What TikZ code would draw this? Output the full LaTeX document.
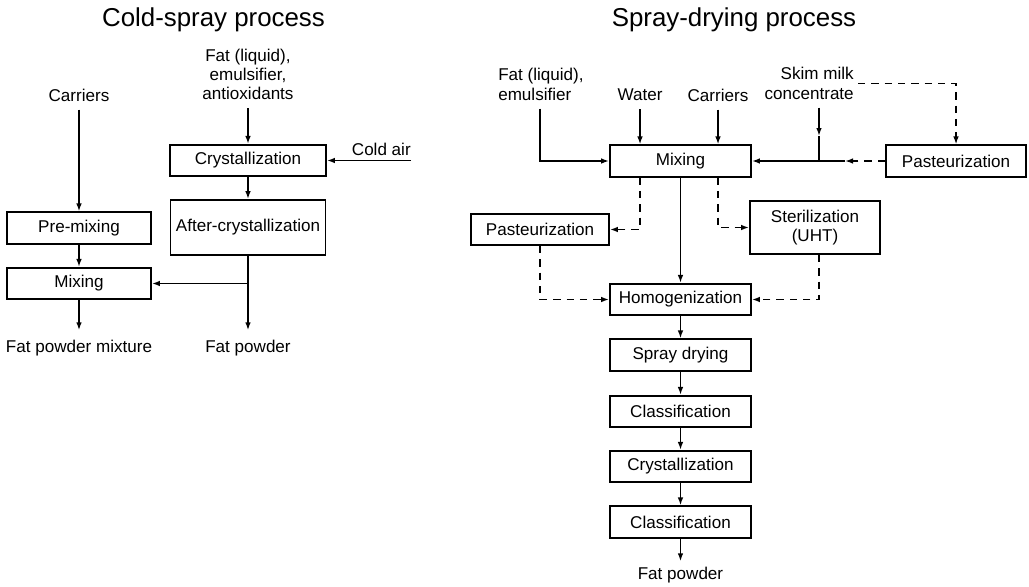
\documentclass[tikz,border=0pt]{standalone}
\usepackage{fontspec}
\setmainfont{Liberation Sans}
\usetikzlibrary{arrows.meta}

\begin{document}
\begin{tikzpicture}[x=0.75pt, y=-0.75pt, line cap=butt, line join=miter, >={Latex[length=6pt,width=4.2pt]}, font=\fontsize{12.8}{14.5}\selectfont,
		box/.style={draw, line width=1.3pt, inner sep=0pt, align=center, minimum height=23.5pt, minimum width=#1},
		box/.default=105.75pt,
		lab/.style={inner sep=3pt, align=center},
		ttl/.style={font=\fontsize{19.4}{23}\selectfont},
		arr/.style={->, line width=1.2pt},
		dsh/.style={->, line width=1.2pt, dash pattern=on 5.5pt off 4.5pt}]
	\useasboundingbox (0,0) rectangle (1029,586);
	% cold-spray process
	\node[ttl] (title1) at (213.5,20) {Cold-spray process};
	\node[lab] (carr1) at (79,95) {Carriers};
	\node[lab] (fat1) at (248,74.5) {Fat (liquid),\\emulsifier,\\antioxidants};
	\node[lab, anchor=east] (cold) at (415,149.5) {Cold air};
	\coordinate (ca) at (411,160.5);
	\node[box=117pt] (cryst1) at (248,160.5) {Crystallization};
	\node[box=116.25pt, minimum height=41.25pt] (after1) at (248,227.5) {After-crystallization};
	\node[box=108pt] (premix) at (79,228) {Pre-mixing};
	\node[box=108pt] (mix1) at (79,283.5) {Mixing};
	\node[lab] (out1) at (79,348.5) {Fat powder mixture};
	\node[lab] (out1b) at (248,348.5) {Fat powder};
	\draw[arr, shorten <=3pt] (carr1) -- (premix);
	\draw[arr, shorten <=3pt] (fat1) -- (cryst1);
	\draw[arr] (ca) -- (cryst1.east);
	\foreach \a/\b in {premix/mix1, cryst1/after1} \draw[arr] (\a) -- (\b);
	\draw[arr, shorten >=4.5pt] (mix1) -- (out1);
	\draw[arr, shorten >=4.5pt] (after1) -- (out1b);
	\draw[arr] (after1.south |- mix1.east) -- (mix1.east);
	% spray-drying process
	\node[ttl] (title2) at (734,20) {Spray-drying process};
	\node[lab, align=left, anchor=west] (fat2) at (494,84.5) {Fat (liquid),\\emulsifier};
	\node[lab] (water) at (640,95) {Water};
	\node[lab] (carr2) at (718,95) {Carriers};
	\node[lab, align=right, anchor=east] (skim) at (858,83.5) {Skim milk\\concentrate};
	\node[box] (mix2) at (680.5,161) {Mixing};
	\node[box=105pt] (past1) at (956,161) {Pasteurization};
	\node[box=103.5pt] (past2) at (540,229.5) {Pasteurization};
	\node[box=97.5pt, minimum height=39.75pt] (ster) at (815,227.5) {Sterilization\\(UHT)};
	\node[box] (homog) at (680.5,299.5) {Homogenization};
	\foreach \n/\t/\y in {spray/Spray drying/355, class1/Classification/411.5, cryst2/Crystallization/466.5, class2/Classification/522}
		\node[box] (\n) at (680.5,\y) {\t};
	\node[lab] (out2) at (680.5,575.5) {Fat powder};
	\coordinate (j) at (819,161);
	\coordinate (sk) at (819,136);
	\coordinate (k) at (845,161);
	\draw[arr, shorten <=3pt] (fat2.south -| past2) |- (mix2.west);
	\draw[arr, shorten <=3pt] (water) -- (water |- mix2.north);
	\draw[arr, shorten <=3pt] (carr2) -- (carr2 |- mix2.north);
	\draw[arr, shorten <=3pt] (skim.south -| j) -- (sk);
	\draw[line width=1.2pt] (sk) -- (j);
	\draw[dsh] (skim.east) -| (past1.north);
	\draw[dsh] (past1.west) -- (k);
	\draw[arr] (k) -- (mix2.east);
	\draw[dsh] (mix2.south -| water) |- (past2.east);
	\draw[dsh] (mix2.south -| carr2) |- (ster.west);
	\draw[dsh] (past2.south) |- (homog.west);
	\draw[dsh] (ster.south -| j) |- (homog.east);
	\foreach \a/\b in {mix2/homog, homog/spray, spray/class1, class1/cryst2, cryst2/class2}
		\draw[arr] (\a) -- (\b);
	\draw[arr, shorten >=1.5pt] (class2) -- (out2);
\end{tikzpicture}
\end{document}
